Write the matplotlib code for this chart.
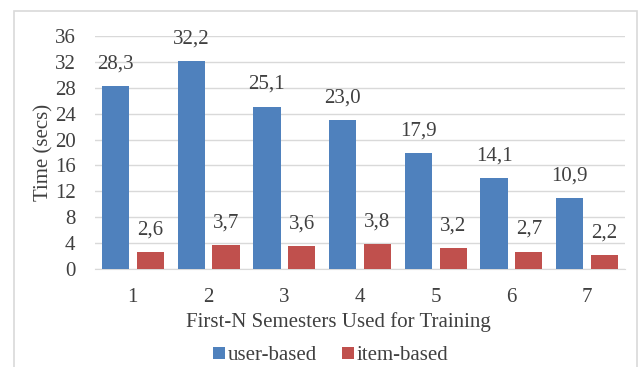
import matplotlib.pyplot as plt
import matplotlib.patches as mpatches
import numpy as np

plt.rcParams['font.family'] = ['Liberation Serif', 'DejaVu Serif']

# values
semesters = ['1', '2', '3', '4', '5', '6', '7']
user_based = [28.3, 32.2, 25.1, 23.0, 17.9, 14.1, 10.9]
item_based = [2.6, 3.7, 3.6, 3.8, 3.2, 2.7, 2.2]
y_ticks = [0, 4, 8, 12, 16, 20, 24, 28, 32, 36]

blue = '#4F81BD'
red = '#C0504D'
txt = '#404040'
fs = 15

fig = plt.figure(figsize=(6.4, 3.67), dpi=100)
# outer chart border
fig.patches.append(mpatches.Rectangle((14 / 640, -0.05), 623 / 640, 1 - 11 / 367 + 0.05,
                                      transform=fig.transFigure, fill=False,
                                      edgecolor='#D9D9D9', linewidth=1.2))

ax = fig.add_axes([95 / 640, 1 - 269 / 367, 530 / 640, 233 / 367])

x = np.arange(len(semesters))
w = 0.36
off = 0.23
ax.bar(x - off, user_based, w, color=blue, label='user-based', zorder=3)
ax.bar(x + off, item_based, w, color=red, label='item-based', zorder=3)

def fmt(v):
    return f'{v:.1f}'.replace('.', ',')

for xi, v in zip(x, user_based):
    ax.text(xi - off, v + 3.4, fmt(v), ha='center', va='center', fontsize=fs, color=txt)
for xi, v in zip(x, item_based):
    ax.text(xi + off, v + 3.4, fmt(v), ha='center', va='center', fontsize=fs, color=txt)

ax.set_xlim(-0.5, len(semesters) - 0.5)
ax.set_ylim(0, 36)
ax.set_yticks(y_ticks)
ax.set_xticks(x)
ax.set_xticklabels(semesters)
ax.grid(axis='y', color='#D9D9D9', linewidth=1, zorder=0)
for s in ['top', 'right', 'left']:
    ax.spines[s].set_visible(False)
ax.spines['bottom'].set_color('#D9D9D9')
ax.tick_params(axis='both', length=0, labelsize=fs, colors=txt)
ax.tick_params(axis='x', pad=14)
ax.tick_params(axis='y', pad=14)
ax.set_ylabel('Time (secs)', fontsize=fs, color=txt, labelpad=1)
ax.set_xlabel('First-N Semesters Used for Training', fontsize=fs, color=txt, labelpad=3)
ax.xaxis.label.set_x(0.46)

ax.legend(loc='center', bbox_to_anchor=(0.445, -0.372), ncol=2, frameon=False,
          fontsize=fs, handlelength=0.55, handleheight=0.55, handletextpad=0.15,
          columnspacing=1.2, labelcolor=txt, borderpad=0)

fig.savefig('out.png', dpi=100)
